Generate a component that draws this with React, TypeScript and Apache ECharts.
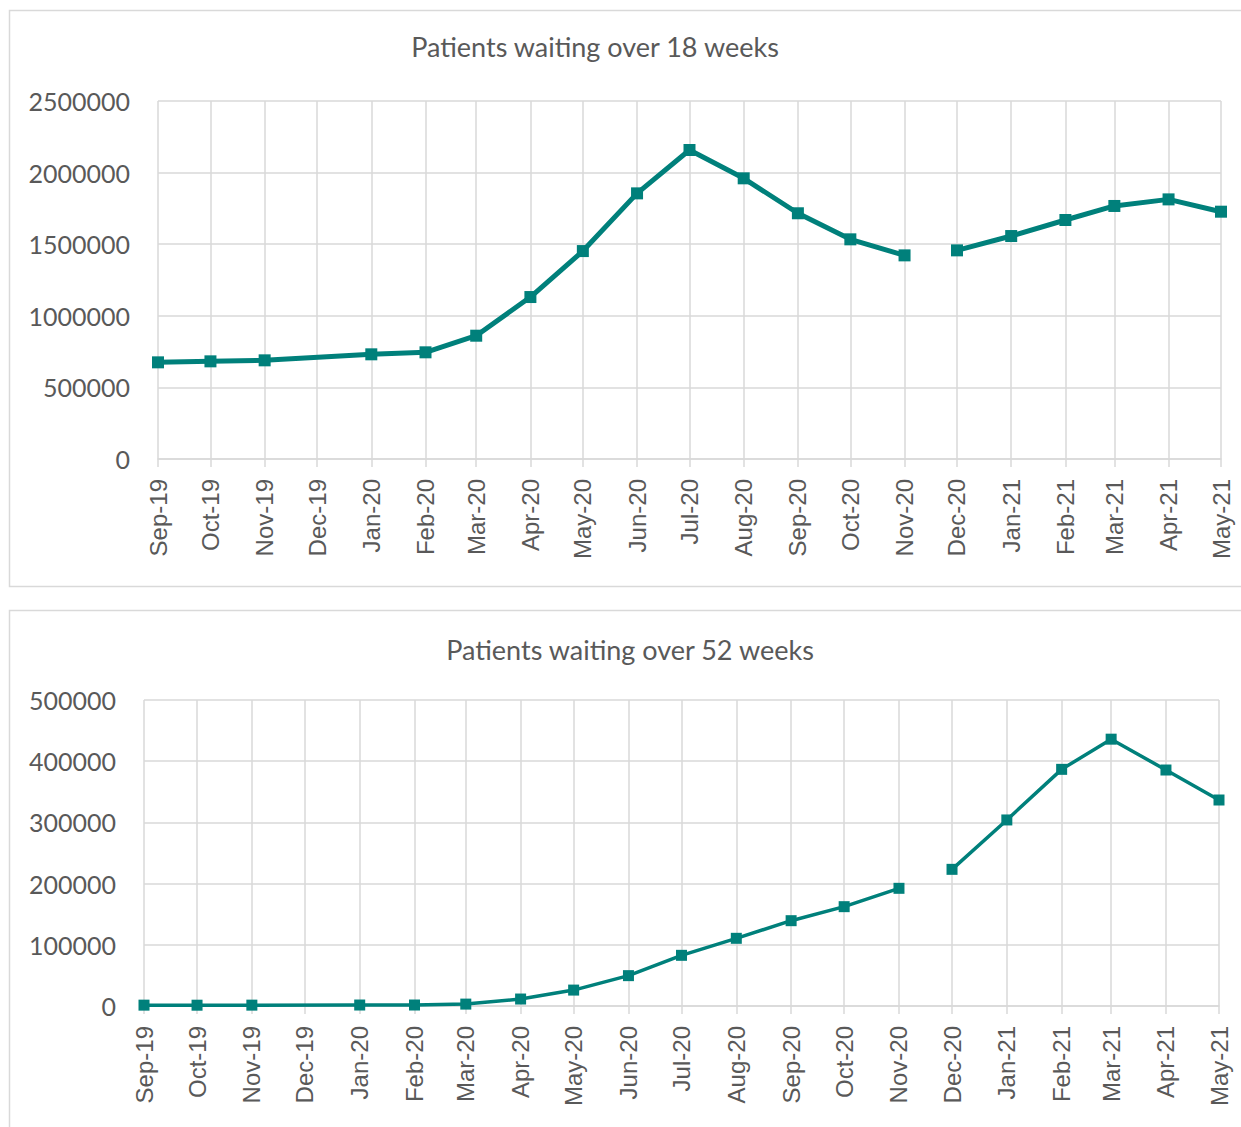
import React, { useEffect, useRef } from 'react';
import * as echarts from 'echarts';

const months = ['Sep-19','Oct-19','Nov-19','Dec-19','Jan-20','Feb-20','Mar-20','Apr-20','May-20','Jun-20','Jul-20','Aug-20','Sep-20','Oct-20','Nov-20','Dec-20','Jan-21','Feb-21','Mar-21','Apr-21','May-21'];
const over18: (number | null)[] = [675000,682000,689000,null,731000,745000,861000,1131000,1452000,1855000,2158000,1960000,1716000,1534000,1422000,1457000,1557000,1669000,1767000,1813000,1727000];
const over52: (number | null)[] = [1400,1300,1400,null,1600,1600,3100,11400,26000,49600,82800,110600,139400,162300,192300,223300,304000,386700,436000,385600,336600];
const secondRunStart = 15; // Dec-20 starts a new line segment
const title18 = 'Patients waiting over 18 weeks';
const title52 = 'Patients waiting over 52 weeks';
const max18 = 2500000, step18 = 500000;
const max52 = 500000, step52 = 100000;

const monthTs = months.map((_, i) => Date.UTC(2019, 8 + i, 1));

const TEAL = '#00807B';
const GRID = '#d9d9d9';
const TXT = '#595959';

function seg(values: (number | null)[], from: number, to: number) {
  const out: [number, number][] = [];
  for (let i = from; i < to; i++) {
    const v = values[i];
    if (v != null) out.push([monthTs[i], v]);
  }
  return out;
}

function xAxis(gridIndex: number) {
  return {
    type: 'value',
    gridIndex,
    min: monthTs[0],
    max: monthTs[monthTs.length - 1],
    axisLine: { show: true, lineStyle: { color: GRID, width: 1.5 } },
    axisTick: { show: true, customValues: monthTs, length: 8, lineStyle: { color: GRID, width: 1.5 } },
    axisLabel: {
      customValues: monthTs,
      rotate: 90,
      margin: 20,
      fontSize: 24,
      fontFamily: 'Liberation Sans',
      color: TXT,
      formatter: (v: number) => months[monthTs.indexOf(v)] ?? '',
    },
    splitLine: { show: true, lineStyle: { color: GRID, width: 1.5 } },
  };
}

function yAxis(gridIndex: number, max: number, interval: number) {
  return {
    type: 'value',
    gridIndex,
    min: 0,
    max,
    interval,
    axisLine: { show: false },
    axisTick: { show: false },
    axisLabel: { margin: 28, fontSize: 25, fontFamily: 'Lato', color: TXT, formatter: (v: number) => String(v) },
    splitLine: { show: true, lineStyle: { color: GRID, width: 1.5 } },
  };
}

function lineSeries(idx: number, data: [number, number][], width: number, size: number) {
  return {
    type: 'line',
    xAxisIndex: idx,
    yAxisIndex: idx,
    data,
    connectNulls: true,
    symbol: 'rect',
    symbolSize: size,
    showSymbol: true,
    lineStyle: { color: TEAL, width },
    itemStyle: { color: TEAL },
    z: 5,
  };
}

export default function App() {
  const ref = useRef<HTMLDivElement>(null);
  useEffect(() => {
    if (!ref.current) return;
    const chart = echarts.init(ref.current, undefined, { renderer: 'svg' });
    chart.setOption({
      animation: false,
      backgroundColor: '#ffffff',
      graphic: [
        { type: 'rect', shape: { x: 9.5, y: 10.5, width: 1240, height: 576 }, style: { fill: 'none', stroke: GRID, lineWidth: 1.5 }, z: -1 },
        { type: 'rect', shape: { x: 9.5, y: 610.5, width: 1240, height: 540 }, style: { fill: 'none', stroke: GRID, lineWidth: 1.5 }, z: -1 },
        { type: 'text', x: 595, y: 46, style: { text: title18, textAlign: 'center', textVerticalAlign: 'middle', fontSize: 27, fontFamily: 'Lato', fill: TXT } },
        { type: 'text', x: 630, y: 649, style: { text: title52, textAlign: 'center', textVerticalAlign: 'middle', fontSize: 27, fontFamily: 'Lato', fill: TXT } },
      ],
      grid: [
        { left: 158, width: 1063, top: 101, height: 358 },
        { left: 144, width: 1075, top: 700, height: 306 },
      ],
      xAxis: [xAxis(0), xAxis(1)],
      yAxis: [yAxis(0, max18, step18), yAxis(1, max52, step52)],
      series: [
        lineSeries(0, seg(over18, 0, secondRunStart), 5, 12),
        lineSeries(0, seg(over18, secondRunStart, months.length), 5, 12),
        lineSeries(1, seg(over52, 0, secondRunStart), 3.5, 11),
        lineSeries(1, seg(over52, secondRunStart, months.length), 3.5, 11),
      ],
    });
    return () => chart.dispose();
  }, []);
  return <div ref={ref} style={{ position: 'absolute', left: 0, top: 0, width: 1241, height: 1127 }} />;
}
